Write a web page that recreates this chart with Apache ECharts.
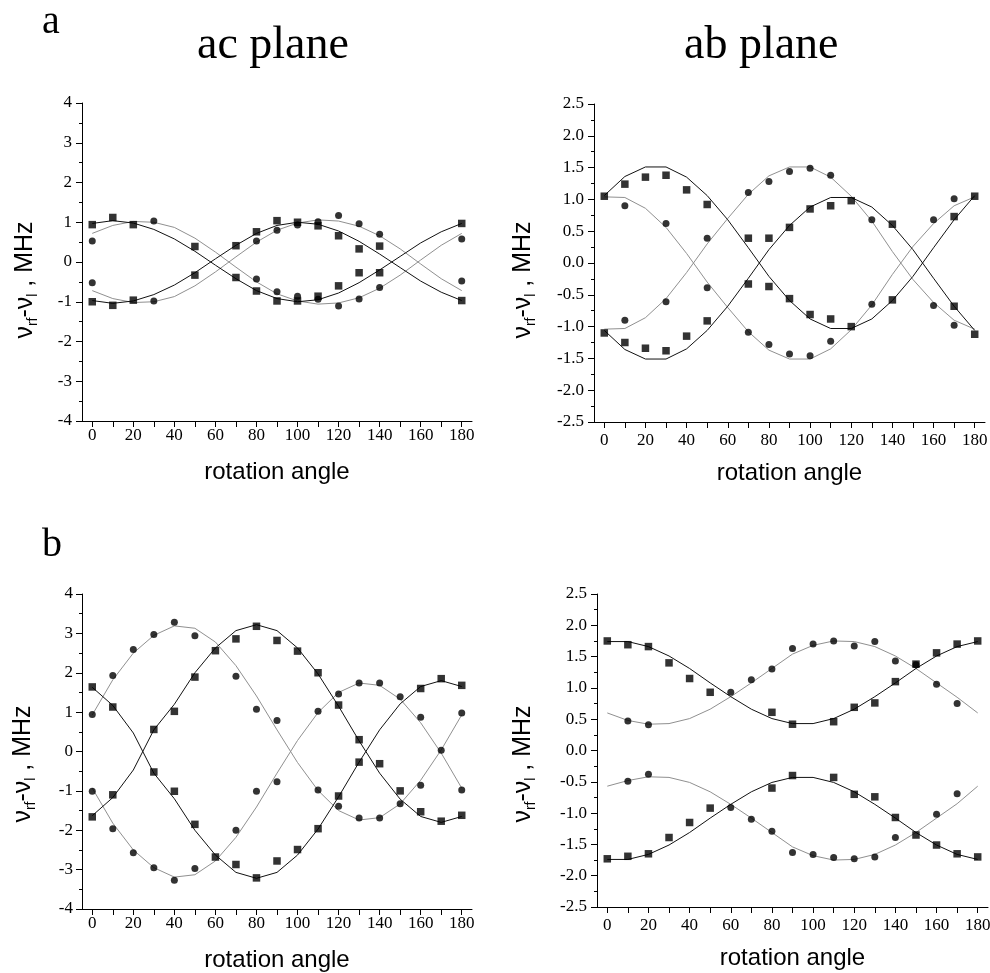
<!DOCTYPE html>
<html><head><meta charset="utf-8">
<script src="https://cdn.jsdelivr.net/npm/echarts@6/dist/echarts.min.js"></script>
<style>html,body{margin:0;padding:0;background:#fff}#c{width:990px;height:973px}</style>
</head><body><div id="c"></div>
<script>
// ---------- shared axis values ----------
const ANGLES = [0,10,20,30,40,50,60,70,80,90,100,110,120,130,140,150,160,170,180];
const X_TICKS = [0,10,20,30,40,50,60,70,80,90,100,110,120,130,140,150,160,170,180];
const X_LABELS = [0,20,40,60,80,100,120,140,160,180];

// ---------- panel a, ac plane ----------
const acA_sqUp = [[0,0.94],[10,1.12],[20,0.94],[50,0.39],[70,0.41],[80,0.76],[90,1.04],[100,1.0],[110,0.91],[120,0.66],[130,0.33],[140,0.40],[180,0.97]];
const acA_sqLo = [[0,-1.0],[10,-1.09],[20,-0.96],[50,-0.33],[70,-0.39],[80,-0.73],[90,-0.98],[100,-0.98],[110,-0.86],[120,-0.6],[130,-0.27],[140,-0.27],[180,-0.97]];
const acA_ciUp = [[0,0.53],[30,1.03],[80,0.53],[90,0.8],[100,0.93],[110,1.01],[120,1.17],[130,0.96],[140,0.70],[180,0.58]];
const acA_ciLo = [[0,-0.52],[30,-0.98],[80,-0.43],[90,-0.75],[100,-0.86],[110,-0.94],[120,-1.11],[130,-0.93],[140,-0.64],[180,-0.48]];
const acA_fitSq1 = [0.97,1.04,0.98,0.82,0.58,0.27,-0.08,-0.42,-0.72,-0.92,-1.0,-0.95,-0.78,-0.52,-0.2,0.14,0.48,0.76,0.97];
const acA_fitSq2 = [-0.97,-1.04,-0.98,-0.82,-0.58,-0.27,0.08,0.42,0.72,0.92,1.0,0.95,0.78,0.52,0.2,-0.14,-0.48,-0.76,-0.97];
const acA_fitCi1 = [0.72,0.92,1.02,1.0,0.87,0.6,0.25,-0.13,-0.5,-0.8,-0.98,-1.06,-1.03,-0.9,-0.66,-0.33,0.05,0.42,0.72];
const acA_fitCi2 = [-0.72,-0.92,-1.02,-1.0,-0.87,-0.6,-0.25,0.13,0.5,0.8,0.98,1.06,1.03,0.9,0.66,0.33,-0.05,-0.42,-0.72];

// ---------- panel a, ab plane ----------
const abA_sqUp = [[0,1.05],[10,1.24],[20,1.35],[30,1.38],[40,1.15],[50,0.92],[70,0.39],[80,0.39],[90,0.56],[100,0.85],[110,0.9],[120,0.98],[140,0.61],[170,0.73],[180,1.05]];
const abA_sqLo = [[0,-1.1],[10,-1.25],[20,-1.34],[30,-1.38],[40,-1.15],[50,-0.91],[70,-0.33],[80,-0.37],[90,-0.56],[100,-0.81],[110,-0.88],[120,-1.0],[140,-0.58],[170,-0.68],[180,-1.12]];
const abA_ciUp = [[10,0.9],[30,0.62],[50,0.39],[70,1.11],[80,1.28],[90,1.44],[100,1.49],[110,1.38],[130,0.68],[160,0.68],[170,1.01]];
const abA_ciLo = [[10,-0.9],[30,-0.61],[50,-0.39],[70,-1.09],[80,-1.28],[90,-1.43],[100,-1.46],[110,-1.23],[130,-0.65],[160,-0.67],[170,-0.98]];
const abA_fitSq1 = [1.06,1.36,1.51,1.51,1.35,1.06,0.68,0.24,-0.21,-0.59,-0.88,-1.03,-1.03,-0.88,-0.59,-0.21,0.24,0.68,1.06];
const abA_fitSq2 = [-1.06,-1.36,-1.51,-1.51,-1.35,-1.06,-0.68,-0.24,0.21,0.59,0.88,1.03,1.03,0.88,0.59,0.21,-0.24,-0.68,-1.06];
const abA_fitCi1 = [1.04,1.03,0.86,0.56,0.15,-0.3,-0.7,-1.08,-1.37,-1.51,-1.51,-1.35,-1.05,-0.66,-0.18,0.26,0.62,0.9,1.04];
const abA_fitCi2 = [-1.04,-1.03,-0.86,-0.56,-0.15,0.3,0.7,1.08,1.37,1.51,1.51,1.35,1.05,0.66,0.18,-0.26,-0.62,-0.9,-1.04];

// ---------- panel b, ac plane ----------
const acB_sqUp = [[0,1.64],[10,1.13],[30,0.56],[40,1.02],[50,1.89],[60,2.56],[70,2.86],[80,3.18],[90,2.82],[100,2.55],[110,2.0],[120,1.18],[130,0.30],[160,1.6],[170,1.85],[180,1.68]];
const acB_sqLo = [[0,-1.66],[10,-1.1],[30,-0.52],[40,-1.01],[50,-1.85],[60,-2.68],[70,-2.87],[80,-3.21],[90,-2.78],[100,-2.49],[110,-1.96],[120,-1.13],[130,-0.27],[140,-0.31],[150,-1.0],[160,-1.53],[170,-1.77],[180,-1.62]];
const acB_ciUp = [[0,0.94],[10,1.93],[20,2.59],[30,2.97],[40,3.28],[50,2.94],[70,1.91],[80,1.07],[90,0.79],[110,1.02],[120,1.46],[130,1.74],[140,1.74],[150,1.39],[160,0.87],[170,0.03],[180,0.98]];
const acB_ciLo = [[0,-1.01],[10,-1.96],[20,-2.57],[30,-2.95],[40,-3.27],[50,-2.97],[70,-2.0],[80,-1.01],[90,-0.77],[110,-0.98],[120,-1.39],[130,-1.69],[140,-1.69],[150,-1.33],[160,-0.86],[180,-0.98]];
const acB_fitSq1 = [1.63,1.17,0.47,-0.55,-1.2,-2.0,-2.63,-3.07,-3.22,-3.07,-2.63,-1.97,-1.15,-0.27,0.55,1.21,1.65,1.8,1.65];
const acB_fitSq2 = [-1.63,-1.17,-0.47,0.55,1.2,2.0,2.63,3.07,3.22,3.07,2.63,1.97,1.15,0.27,-0.55,-1.21,-1.65,-1.8,-1.65];
const acB_fitCi1 = [0.93,1.82,2.5,2.95,3.19,3.13,2.78,2.18,1.41,0.55,-0.28,-0.99,-1.5,-1.74,-1.68,-1.33,-0.73,0.04,0.93];
const acB_fitCi2 = [-0.93,-1.82,-2.5,-2.95,-3.19,-3.13,-2.78,-2.18,-1.41,-0.55,0.28,0.99,1.5,1.74,1.68,1.33,0.73,-0.04,-0.93];

// ---------- panel b, ab plane ----------
const abB_sqUp = [[0,1.75],[10,1.69],[20,1.66],[30,1.40],[40,1.15],[50,0.93],[80,0.61],[90,0.42],[110,0.46],[120,0.69],[130,0.76],[140,1.1],[150,1.38],[160,1.56],[170,1.70],[180,1.75]];
const abB_sqLo = [[0,-1.73],[10,-1.69],[20,-1.65],[30,-1.39],[40,-1.15],[50,-0.92],[80,-0.6],[90,-0.40],[110,-0.43],[120,-0.70],[130,-0.74],[140,-1.07],[150,-1.35],[160,-1.51],[170,-1.65],[180,-1.70]];
const abB_ciUp = [[10,0.47],[20,0.41],[60,0.93],[70,1.13],[80,1.30],[90,1.63],[100,1.70],[110,1.75],[120,1.67],[130,1.74],[140,1.43],[150,1.37],[160,1.06],[170,0.75]];
const abB_ciLo = [[10,-0.49],[20,-0.38],[60,-0.91],[70,-1.10],[80,-1.29],[90,-1.63],[100,-1.66],[110,-1.71],[120,-1.73],[130,-1.70],[140,-1.39],[160,-1.02],[170,-0.69]];
const abB_fitSq1 = [1.74,1.74,1.66,1.51,1.31,1.08,0.86,0.66,0.51,0.43,0.43,0.51,0.66,0.86,1.08,1.31,1.51,1.66,1.74];
const abB_fitSq2 = [-1.74,-1.74,-1.66,-1.51,-1.31,-1.08,-0.86,-0.66,-0.51,-0.43,-0.43,-0.51,-0.66,-0.86,-1.08,-1.31,-1.51,-1.66,-1.74];
const abB_fitCi1 = [0.6,0.48,0.42,0.43,0.51,0.66,0.86,1.08,1.31,1.54,1.68,1.75,1.74,1.66,1.51,1.31,1.08,0.85,0.6];
const abB_fitCi2 = [-0.57,-0.48,-0.42,-0.43,-0.51,-0.66,-0.86,-1.08,-1.31,-1.54,-1.68,-1.75,-1.74,-1.66,-1.51,-1.31,-1.08,-0.85,-0.57];

// ---------- text ----------
const PANEL_LETTERS = ['a','b'];
const PLANE_TITLES = ['ac plane','ab plane'];
const X_NAME = 'rotation angle';
const Y_NAME = '{n|ν}{s|rf}{n|-ν}{s|l}{n| , MHz}';

const SERIF = '"Liberation Serif", "Times New Roman", serif';
const SANS = '"Liberation Sans", Arial, sans-serif';
const INK = '#000';
const SOLID = '#111';
const GRAY = '#909090';

const grids = [
  {left:82, top:103, width:390, height:318},
  {left:594, top:104, width:391, height:318},
  {left:82, top:594, width:390, height:315},
  {left:597, top:594, width:391, height:313}
];
const xLabelMargin = [6, 10, 6, 10];
const yCfg = [
  {min:-4, max:4, interval:1, dec:0, margin:10},
  {min:-2.5, max:2.5, interval:0.5, dec:1, margin:10},
  {min:-4, max:4, interval:1, dec:0, margin:9},
  {min:-2.5, max:2.5, interval:0.5, dec:1, margin:10}
];

function xAxis(i){
  return {
    gridIndex:i, type:'value', min:-5, max:185,
    axisLine:{show:true, onZero:false, lineStyle:{color:INK, width:1}},
    axisTick:{show:true, inside:false, length:6, customValues:X_TICKS, lineStyle:{color:INK, width:1}},
    axisLabel:{show:true, customValues:X_LABELS, margin:xLabelMargin[i], color:INK, fontFamily:SERIF, fontSize:17},
    splitLine:{show:false},
    name:X_NAME, nameLocation:'middle', nameGap:39,
    nameTextStyle:{fontFamily:SANS, fontSize:24, color:INK}
  };
}
function yAxis(i){
  const c = yCfg[i];
  return {
    gridIndex:i, type:'value', min:c.min, max:c.max, interval:c.interval,
    axisLine:{show:true, onZero:false, lineStyle:{color:INK, width:1}},
    axisTick:{show:true, inside:false, length:6, lineStyle:{color:INK, width:1}},
    minorTick:{show:true, splitNumber:2, length:3, lineStyle:{color:INK, width:1}},
    axisLabel:{margin:c.margin, color:INK, fontFamily:SERIF, fontSize:17,
      formatter:v => (Math.abs(v) < 1e-9 ? (c.dec ? '0.0' : '0') : v.toFixed(c.dec))},
    splitLine:{show:false}, minorSplitLine:{show:false}
  };
}
function fitLine(i, vals, color){
  return {type:'line', xAxisIndex:i, yAxisIndex:i, data:ANGLES.map((a,k)=>[a, vals[k]]),
    symbol:'none', showSymbol:false, silent:true, z:2, lineStyle:{color:color, width:1}};
}
function pts(i, data, symbol, size){
  return {type:'scatter', xAxisIndex:i, yAxisIndex:i, data:data, symbol:symbol, symbolSize:size,
    itemStyle:{color:INK}, z:3, silent:true};
}
const panels = [
  [acA_sqUp, acA_sqLo, acA_ciUp, acA_ciLo, acA_fitSq1, acA_fitSq2, acA_fitCi1, acA_fitCi2],
  [abA_sqUp, abA_sqLo, abA_ciUp, abA_ciLo, abA_fitSq1, abA_fitSq2, abA_fitCi1, abA_fitCi2],
  [acB_sqUp, acB_sqLo, acB_ciUp, acB_ciLo, acB_fitSq1, acB_fitSq2, acB_fitCi1, acB_fitCi2],
  [abB_sqUp, abB_sqLo, abB_ciUp, abB_ciLo, abB_fitSq1, abB_fitSq2, abB_fitCi1, abB_fitCi2]
];
const series = [];
panels.forEach((p, i) => {
  series.push(fitLine(i, p[6], GRAY), fitLine(i, p[7], GRAY));
  series.push(fitLine(i, p[4], SOLID), fitLine(i, p[5], SOLID));
  series.push(pts(i, p[0].concat(p[1]), 'rect', 7.5));
  series.push(pts(i, p[2].concat(p[3]), 'circle', 7));
});

function yName(x, y){
  return {type:'text', x:x, y:y, rotation:Math.PI/2, silent:true,
    style:{text:Y_NAME, align:'center', verticalAlign:'middle', fill:INK,
      rich:{n:{fontFamily:SANS, fontSize:25, lineHeight:30, fill:INK},
            s:{fontFamily:SANS, fontSize:14, lineHeight:14, verticalAlign:'bottom', fill:INK}}}};
}
function serifText(txt, x, y, size){
  return {type:'text', x:x, y:y, silent:true,
    style:{text:txt, align:'left', verticalAlign:'middle', fill:INK, fontFamily:SERIF, fontSize:size}};
}
const graphics = [
  serifText(PANEL_LETTERS[0], 42, 22, 40),
  serifText(PANEL_LETTERS[1], 42, 545, 40),
  serifText(PLANE_TITLES[0], 197, 46, 46),
  serifText(PLANE_TITLES[1], 684, 46, 46),
  yName(25, 280), yName(523, 280), yName(23, 764), yName(523, 764)
];

const chart = echarts.init(document.getElementById('c'), null, {renderer:'canvas'});
chart.setOption({
  animation:false,
  backgroundColor:'#fff',
  grid:grids.map(g => Object.assign({containLabel:false, outerBoundsMode:'none'}, g)),
  xAxis:[0,1,2,3].map(xAxis),
  yAxis:[0,1,2,3].map(yAxis),
  series:series,
  graphic:graphics
});
</script>
</body></html>
